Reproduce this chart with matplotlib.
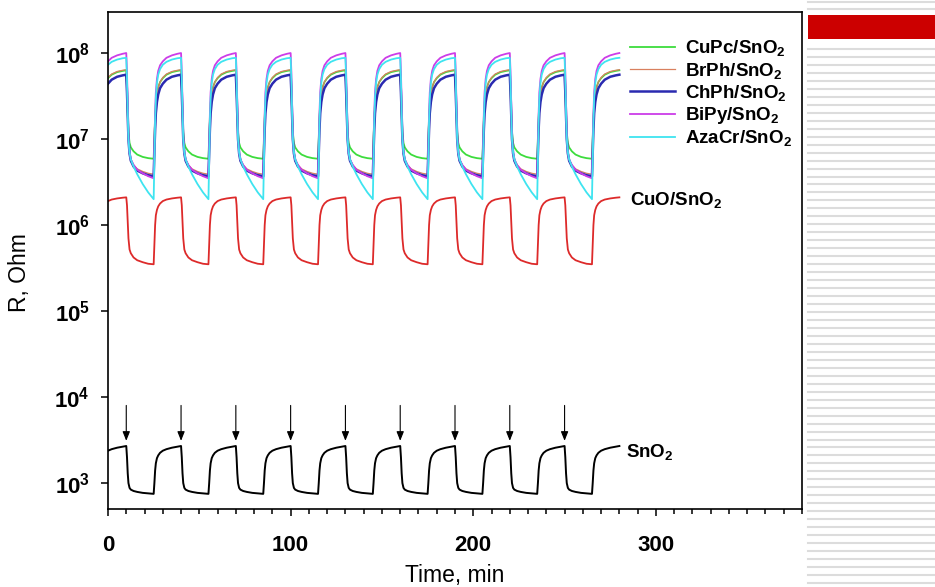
import numpy as np
import matplotlib.pyplot as plt
from matplotlib.patches import Rectangle
from matplotlib.lines import Line2D
from matplotlib.ticker import MultipleLocator, FixedLocator, NullLocator, FuncFormatter

plt.rcParams['font.family'] = ['Liberation Sans', 'DejaVu Sans']
plt.rcParams['mathtext.fontset'] = 'custom'
plt.rcParams['mathtext.rm'] = 'Liberation Sans'
plt.rcParams['mathtext.bf'] = 'Liberation Sans:bold'
plt.rcParams['mathtext.default'] = 'bf'

# gas pulses (min) - marked with arrows on the SnO2 trace
gas_on = [10, 40, 70, 100, 130, 160, 190, 220, 250]

# one response cycle: minutes after gas on (gas off at 15 min)
cycle_t = [0, 0.4, 0.8, 1.2, 1.8, 2.5, 4, 6, 9, 12, 15,
           15.4, 15.8, 16.2, 16.8, 17.5, 18.5, 20, 22, 25, 28]

# resistance over one cycle, Ohm
cupc_R = [6.3e7, 4.0e7, 2.0e7, 1.2e7, 9.0e6, 8.0e6, 7.2e6, 6.6e6, 6.2e6, 6.0e6, 5.9e6,
          1.0e7, 1.8e7, 2.6e7, 3.4e7, 4.0e7, 4.6e7, 5.1e7, 5.6e7, 6.0e7, 6.2e7]
brph_R = [6.4e7, 4.0e7, 2.0e7, 1.1e7, 7.0e6, 5.8e6, 5.0e6, 4.5e6, 4.2e6, 4.0e6, 3.9e6,
          8.0e6, 1.6e7, 2.5e7, 3.3e7, 4.0e7, 4.6e7, 5.2e7, 5.7e7, 6.1e7, 6.3e7]
chph_R = [5.6e7, 3.5e7, 1.8e7, 1.0e7, 6.8e6, 5.6e6, 4.8e6, 4.3e6, 4.0e6, 3.8e6, 3.7e6,
          7.0e6, 1.3e7, 2.0e7, 2.7e7, 3.3e7, 3.9e7, 4.4e7, 4.9e7, 5.3e7, 5.5e7]
bipy_R = [1.0e8, 6.0e7, 2.5e7, 1.1e7, 7.0e6, 5.8e6, 5.0e6, 4.4e6, 4.0e6, 3.7e6, 3.5e6,
          8.0e6, 2.0e7, 3.5e7, 5.0e7, 6.2e7, 7.2e7, 8.0e7, 8.8e7, 9.4e7, 9.8e7]
azacr_R = [8.8e7, 5.0e7, 2.0e7, 1.0e7, 7.0e6, 5.8e6, 4.8e6, 3.9e6, 3.0e6, 2.4e6, 2.0e6,
           6.0e6, 1.6e7, 3.0e7, 4.5e7, 5.6e7, 6.5e7, 7.3e7, 7.9e7, 8.4e7, 8.7e7]
cuo_R = [2.1e6, 1.7e6, 1.1e6, 7.0e5, 5.2e5, 4.7e5, 4.2e5, 3.9e5, 3.7e5, 3.55e5, 3.5e5,
         6.0e5, 1.0e6, 1.3e6, 1.5e6, 1.65e6, 1.78e6, 1.9e6, 1.98e6, 2.04e6, 2.08e6]
sno2_R = [2.7e3, 2.0e3, 1.3e3, 1.0e3, 880, 840, 810, 790, 770, 760, 750,
          1.0e3, 1.4e3, 1.7e3, 1.95e3, 2.1e3, 2.25e3, 2.38e3, 2.48e3, 2.58e3, 2.65e3]


def trace(profile):
    # repeat the cycle for every pulse, starting with the tail of the previous one
    t, r = [], []
    for t0 in [gas_on[0] - 30] + gas_on:
        for dt, v in zip(cycle_t, profile):
            if t0 + dt >= 0:
                t.append(t0 + dt)
                r.append(v)
    t.append(gas_on[-1] + 30)
    r.append(profile[0])
    return t, r


W, H = 935, 587
fig = plt.figure(figsize=(W / 100, H / 100), dpi=100)
ax = fig.add_axes([108 / W, 1 - 509 / H, 694 / W, 497 / H])

l_cupc, = ax.plot(*trace(cupc_R), color='#3ddc3d', lw=1.3)
l_brph, = ax.plot(*trace(brph_R), color='#d9805f', lw=0.9)
l_chph, = ax.plot(*trace(chph_R), color='#2a2ab0', lw=1.8)
l_bipy, = ax.plot(*trace(bipy_R), color='#cc3de8', lw=1.3)
l_azacr, = ax.plot(*trace(azacr_R), color='#3ee4f0', lw=1.3)
ax.plot(*trace(cuo_R), color='#dd2a2a', lw=1.3)
ax.plot(*trace(sno2_R), color='black', lw=1.4)

for t0 in gas_on:
    ax.annotate('', xy=(t0, 3.1e3), xytext=(t0, 8.0e3),
                arrowprops=dict(arrowstyle='-|>,head_length=0.55,head_width=0.22',
                                color='black', lw=0.8, shrinkA=0, shrinkB=0))

ax.text(286, 1.95e6, 'CuO/SnO$_2$', fontsize=13.5, fontweight='bold', va='center')
ax.text(283.5, 2.3e3, 'SnO$_2$', fontsize=13.5, fontweight='bold', va='center')

ax.legend([l_cupc, l_brph, l_chph, l_bipy, l_azacr],
          ['CuPc/SnO$_2$', 'BrPh/SnO$_2$', 'ChPh/SnO$_2$', 'BiPy/SnO$_2$', 'AzaCr/SnO$_2$'],
          loc='upper left', bbox_to_anchor=(0.752, 0.947), frameon=False,
          prop=dict(weight='bold', size=13.5), handlelength=2.4, handletextpad=0.55,
          labelspacing=0.12, borderaxespad=0, borderpad=0)

ax.set_yscale('log')
ax.set_xlim(0, 380)
ax.set_ylim(500, 3e8)
ax.xaxis.set_major_locator(FixedLocator([0, 100, 200, 300]))
ax.xaxis.set_minor_locator(MultipleLocator(10))
ax.yaxis.set_major_locator(FixedLocator([1e3, 1e4, 1e5, 1e6, 1e7, 1e8]))
ax.yaxis.set_minor_locator(NullLocator())
ax.yaxis.set_major_formatter(FuncFormatter(lambda v, _: r'$\mathbf{10^{%d}}$' % round(np.log10(v))))
ax.tick_params(axis='both', which='major', direction='out', length=5, width=1.1,
               labelsize=16, colors='black')
ax.tick_params(axis='x', which='major', pad=14)
ax.tick_params(axis='y', which='major', pad=8)
ax.tick_params(axis='x', which='minor', direction='out', length=3.5, width=1.1)
for lab in ax.get_xticklabels():
    lab.set_fontweight('bold')
for sp in ax.spines.values():
    sp.set_linewidth(1.2)

ax.set_xlabel('Time, min', fontsize=16.5)
ax.set_ylabel('R, Ohm', fontsize=16.5)
ax.xaxis.set_label_coords(0.5, -0.11)
ax.yaxis.set_label_coords(-0.111, 0.475)

# slide background on the right: grey rules and a red bar
x0 = 808 / W
for y in list(np.arange(49, H, 7.97)) + [1.5, 9]:
    fig.add_artist(Line2D([x0, 1], [1 - y / H] * 2, color='#dcdcdc', lw=1.5))
fig.add_artist(Rectangle((x0, 1 - 39 / H), 1 - x0, 24 / H, color='#cc0000', lw=0))

fig.savefig('out.png', dpi=100)
